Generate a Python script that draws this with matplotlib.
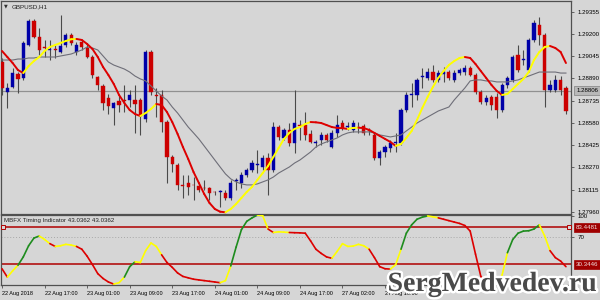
import matplotlib
matplotlib.use('Agg')
import matplotlib.pyplot as plt
import matplotlib.transforms as mtransforms
import matplotlib.patheffects as pe
from matplotlib.collections import LineCollection
import numpy as np

plt.rcParams['font.family'] = ['Liberation Sans', 'DejaVu Sans']

symbol = "GBPUSD,H1"
indicator_title = "MBFX Timing Indicator 43.0362 43.0362"

opens = [1.29005, 1.28796, 1.28831, 1.28921, 1.28894, 1.29124, 1.29291, 1.29180, 1.29110, 1.29089,
         1.29096, 1.29075, 1.29124, 1.29194, 1.29075, 1.29145, 1.29103, 1.29040, 1.28900, 1.28838,
         1.28754, 1.28684, 1.28733, 1.28740, 1.28740, 1.28740, 1.28740, 1.28607, 1.29075, 1.28775,
         1.28775, 1.28586, 1.28342, 1.28286, 1.28147, 1.28161, 1.28147, 1.28140, 1.28126, 1.28126,
         1.28098, 1.28098, 1.28091, 1.28056, 1.28175, 1.28161, 1.28216, 1.28251, 1.28286, 1.28272,
         1.28335, 1.28251, 1.28551, 1.28475, 1.28531, 1.28440, 1.28565, 1.28565, 1.28503, 1.28440,
         1.28461, 1.28496, 1.28412, 1.28510, 1.28579, 1.28551, 1.28531, 1.28551, 1.28558, 1.28531,
         1.28496, 1.28335, 1.28377, 1.28405, 1.28440, 1.28440, 1.28670, 1.28775, 1.28775, 1.28900,
         1.28894, 1.28935, 1.28880, 1.28921, 1.28935, 1.28880, 1.28928, 1.28935, 1.28963, 1.28914,
         1.28796, 1.28726, 1.28761, 1.28761, 1.28670, 1.28845, 1.28880, 1.29054, 1.29019, 1.28949,
         1.29159, 1.29263, 1.29194, 1.28810, 1.28810, 1.28880, 1.28824]
highs = [1.29033, 1.28859, 1.28963, 1.28935, 1.29152, 1.29305, 1.29305, 1.29243, 1.29159, 1.29159,
         1.29131, 1.29333, 1.29208, 1.29208, 1.29145, 1.29159, 1.29138, 1.29054, 1.28907, 1.28852,
         1.28782, 1.28726, 1.28775, 1.28845, 1.28810, 1.28845, 1.28754, 1.29089, 1.29089, 1.28824,
         1.28810, 1.28600, 1.28356, 1.28300, 1.28216, 1.28216, 1.28202, 1.28154, 1.28182, 1.28133,
         1.28105, 1.28112, 1.28112, 1.28182, 1.28196, 1.28237, 1.28265, 1.28321, 1.28391, 1.28356,
         1.28370, 1.28586, 1.28565, 1.28545, 1.28579, 1.28810, 1.28600, 1.28656, 1.28531, 1.28461,
         1.28517, 1.28510, 1.28531, 1.28635, 1.28600, 1.28586, 1.28600, 1.28586, 1.28572, 1.28545,
         1.28510, 1.28391, 1.28426, 1.28461, 1.28510, 1.28684, 1.28796, 1.28859, 1.28894, 1.28963,
         1.28963, 1.28984, 1.28949, 1.28970, 1.28949, 1.28949, 1.28963, 1.28984, 1.28977, 1.28928,
         1.28810, 1.28775, 1.28775, 1.28789, 1.28859, 1.28907, 1.29054, 1.29124, 1.29089, 1.29173,
         1.29298, 1.29319, 1.29208, 1.28880, 1.28914, 1.28907, 1.28838]
lows = [1.28775, 1.28684, 1.28824, 1.28789, 1.28880, 1.29117, 1.29173, 1.29054, 1.29040, 1.29019,
        1.29033, 1.29068, 1.29110, 1.29124, 1.29054, 1.29089, 1.29033, 1.28894, 1.28810, 1.28670,
        1.28642, 1.28565, 1.28656, 1.28656, 1.28691, 1.28510, 1.28496, 1.28586, 1.28775, 1.28621,
        1.28517, 1.28161, 1.28237, 1.28112, 1.28056, 1.28077, 1.28042, 1.28098, 1.28112, 1.28042,
        1.28077, 1.27993, 1.28042, 1.28042, 1.28112, 1.28126, 1.28202, 1.28237, 1.28230, 1.28251,
        1.28077, 1.28237, 1.28461, 1.28461, 1.28419, 1.28370, 1.28461, 1.28461, 1.28440, 1.28412,
        1.28426, 1.28447, 1.28405, 1.28482, 1.28531, 1.28531, 1.28517, 1.28510, 1.28496, 1.28496,
        1.28321, 1.28286, 1.28342, 1.28377, 1.28377, 1.28426, 1.28656, 1.28691, 1.28740, 1.28824,
        1.28880, 1.28866, 1.28866, 1.28866, 1.28880, 1.28866, 1.28914, 1.28914, 1.28907, 1.28782,
        1.28712, 1.28705, 1.28670, 1.28614, 1.28656, 1.28824, 1.28866, 1.28935, 1.28984, 1.28935,
        1.29145, 1.29124, 1.28691, 1.28796, 1.28796, 1.28775, 1.28642]
closes = [1.28824, 1.28824, 1.28928, 1.28887, 1.29138, 1.29291, 1.29180, 1.29089, 1.29103, 1.29096,
          1.29089, 1.29117, 1.29194, 1.29138, 1.29124, 1.29110, 1.29040, 1.28914, 1.28845, 1.28719,
          1.28698, 1.28719, 1.28705, 1.28733, 1.28775, 1.28712, 1.28628, 1.29075, 1.28796, 1.28768,
          1.28586, 1.28342, 1.28293, 1.28147, 1.28140, 1.28133, 1.28143, 1.28112, 1.28124, 1.28091,
          1.28096, 1.28105, 1.28056, 1.28161, 1.28182, 1.28216, 1.28251, 1.28300, 1.28293, 1.28335,
          1.28251, 1.28551, 1.28482, 1.28531, 1.28440, 1.28579, 1.28558, 1.28496, 1.28447, 1.28447,
          1.28496, 1.28461, 1.28510, 1.28565, 1.28545, 1.28558, 1.28579, 1.28549, 1.28510, 1.28524,
          1.28335, 1.28377, 1.28412, 1.28440, 1.28447, 1.28670, 1.28775, 1.28782, 1.28880, 1.28907,
          1.28935, 1.28880, 1.28928, 1.28935, 1.28894, 1.28928, 1.28949, 1.28963, 1.28914, 1.28796,
          1.28726, 1.28754, 1.28705, 1.28670, 1.28845, 1.28894, 1.29040, 1.28949, 1.29026, 1.29159,
          1.29277, 1.29194, 1.28810, 1.28845, 1.28880, 1.28810, 1.28663]

# thin grey moving average
ma_slow = [1.29019, 1.29019, 1.29019, 1.29026, 1.29026, 1.29033, 1.29033, 1.29040, 1.29040, 1.29040,
           1.29040, 1.29047, 1.29054, 1.29061, 1.29075, 1.29089, 1.29110, 1.29103, 1.29089, 1.29047,
           1.29005, 1.28984, 1.28970, 1.28956, 1.28935, 1.28907, 1.28887, 1.28873, 1.28838, 1.28803,
           1.28768, 1.28740, 1.28691, 1.28649, 1.28600, 1.28551, 1.28510, 1.28468, 1.28419, 1.28370,
           1.28321, 1.28272, 1.28224, 1.28189, 1.28168, 1.28154, 1.28147, 1.28147, 1.28154, 1.28168,
           1.28182, 1.28202, 1.28230, 1.28251, 1.28272, 1.28300, 1.28321, 1.28349, 1.28377, 1.28412,
           1.28433, 1.28447, 1.28461, 1.28475, 1.28496, 1.28510, 1.28517, 1.28517, 1.28517, 1.28517,
           1.28510, 1.28496, 1.28489, 1.28482, 1.28489, 1.28496, 1.28524, 1.28551, 1.28579, 1.28600,
           1.28621, 1.28642, 1.28663, 1.28677, 1.28691, 1.28740, 1.28782, 1.28824, 1.28873, 1.28880,
           1.28880, 1.28873, 1.28873, 1.28866, 1.28866, 1.28866, 1.28873, 1.28880, 1.28894, 1.28907,
           1.28921, 1.28935, 1.28935, 1.28935, 1.28935, 1.28928, 1.28928]

# red / yellow smoothed average
ma_fast = [1.29082, 1.29040, 1.28998, 1.28949, 1.28928, 1.28977, 1.29012, 1.29040, 1.29082, 1.29110,
           1.29124, 1.29138, 1.29152, 1.29164, 1.29166, 1.29159, 1.29131, 1.29096, 1.29040, 1.28970,
           1.28914, 1.28852, 1.28775, 1.28719, 1.28670, 1.28642, 1.28628, 1.28649, 1.28677, 1.28712,
           1.28705, 1.28656, 1.28586, 1.28503, 1.28412, 1.28328, 1.28237, 1.28161, 1.28084, 1.28021,
           1.27979, 1.27960, 1.27956, 1.27979, 1.28014, 1.28056, 1.28098, 1.28133, 1.28182, 1.28230,
           1.28279, 1.28342, 1.28405, 1.28468, 1.28510, 1.28538, 1.28551, 1.28572, 1.28586, 1.28584,
           1.28579, 1.28565, 1.28551, 1.28545, 1.28543, 1.28538, 1.28545, 1.28546, 1.28544, 1.28531,
           1.28510, 1.28489, 1.28468, 1.28447, 1.28419, 1.28433, 1.28475, 1.28524, 1.28600, 1.28684,
           1.28761, 1.28831, 1.28894, 1.28942, 1.28984, 1.29012, 1.29033, 1.29040, 1.29033, 1.28991,
           1.28942, 1.28894, 1.28845, 1.28803, 1.28775, 1.28782, 1.28817, 1.28852, 1.28887, 1.28935,
           1.29019, 1.29075, 1.29110, 1.29117, 1.29103, 1.29075, 1.28998]

timing = [24, 12, 21, 29, 41, 57, 68, 71, 66, 60,
          56, 57, 59, 58, 56, 52, 42, 30, 17, 10,
          5, 2, 4, 12, 27, 34, 33, 50, 61, 56,
          44, 33, 26, 18, 13, 11, 9, 8, 7, 6,
          5, 4, 7, 28, 55, 80, 92, 97, 101, 100,
          81, 76, 77, 76.5, 76, 75.7, 75.5, 75, 64, 52,
          46, 41, 39, 49, 60, 56, 56.5, 59, 57, 52,
          40, 27, 24, 23.5, 30, 52, 75, 87, 95, 98,
          99.7, 98.5, 97, 95, 93, 91, 89, 86, 78, 45,
          13, 5, 4, 3, 15, 47, 66, 75, 78, 78.5,
          81, 87, 71, 50, 40, 35, 27]

# labels the watermark does not hide
time_labels = ["22 Aug 2018", "22 Aug 17:00", "23 Aug 01:00", "23 Aug 09:00", "23 Aug 17:00",
               "24 Aug 01:00", "24 Aug 09:00", "24 Aug 17:00", "27 Aug 02:00", "27 Aug 10:00"]
price_ticks = [1.29355, 1.29200, 1.29045, 1.28890, 1.28735, 1.28580, 1.28425, 1.28270, 1.28115, 1.27960]
bid = 1.28806
level_hi = 83.4481
level_lo = 30.3446

bg = '#d6d6d6'
frame = '#505050'
bull = '#0000a8'
bear = '#cc0000'
wick = '#4a4a4a'

opens = np.array(opens); closes = np.array(closes)
highs = np.array(highs); lows = np.array(lows)
n = len(closes)
x = np.arange(n)

fig = plt.figure(figsize=(6, 3), dpi=100, facecolor=bg)
ax = fig.add_axes([1/600, 86/300, 570/600, 213/300], facecolor=bg)
ax2 = fig.add_axes([1/600, 15/300, 570/600, 70/300], facecolor=bg)

# candles
ax.axhline(bid, color='#909090', lw=0.9, zorder=1)
ax.vlines(x, lows, highs, color=wick, lw=0.8, zorder=2)
up = closes >= opens
cols = np.where(up, bull, bear)
bottom = np.minimum(opens, closes)
height = np.maximum(np.abs(closes - opens), 0.00003)
ax.bar(x, height, bottom=bottom, width=0.6, color=cols, edgecolor=cols, lw=0.3, zorder=3)

# moving averages
ax.plot(x, ma_slow, color='#6e6e78', lw=0.8, zorder=4)
mf = np.array(ma_fast)
segs = [[(i, mf[i]), (i + 1, mf[i + 1])] for i in range(n - 1)]
seg_cols = ['#ffff00' if mf[i + 1] > mf[i] else '#dd0000' for i in range(n - 1)]
ax.add_collection(LineCollection(segs, colors=seg_cols, lw=1.4, zorder=5, capstyle='round'))

ax.set_xlim(-0.19, 106.95)
ax.set_ylim(1.27944, 1.29431)
ax.yaxis.tick_right()
ax.set_yticks(price_ticks)
ax.set_yticklabels(['%.5f' % p for p in price_ticks])
ax.set_xticks([])
ax.tick_params(axis='y', direction='out', length=2.5, width=0.6, color=frame, labelsize=4.4, pad=2)

trans = mtransforms.blended_transform_factory(ax.transAxes, ax.transData)
ax.text(1.009, bid, '%.5f' % bid, transform=trans, fontsize=4.4, va='center', ha='left', color='black',
        bbox=dict(boxstyle='square,pad=0.3', fc='#b8b8b8', ec='#808080', lw=0.5))
ax.text(0.005, 0.975, u'\u25bc', transform=ax.transAxes, fontsize=3.5, va='center', ha='left',
        color='#303030', family='DejaVu Sans')
ax.text(0.019, 0.975, symbol, transform=ax.transAxes, fontsize=4.5, va='center', ha='left', color='#202020')

# indicator
tv = np.array(timing, dtype=float)
d = np.sign(np.diff(tv))
for k in range(1, len(d)):
    if d[k] == 0:
        d[k] = d[k - 1]
t_segs = []
t_cols = []
for k in range(len(d)):
    turn = (k >= 1 and d[k] != d[k - 1]) or (k >= 2 and d[k] != d[k - 2])
    t_segs.append([(k, tv[k]), (k + 1, tv[k + 1])])
    if turn:
        t_cols.append('#ffff00')
    elif d[k] > 0:
        t_cols.append('#1e8c1e')
    else:
        t_cols.append('#dd0000')
ax2.axhline(70, color='#a8a8a8', lw=0.7, ls=(0, (1, 2)), zorder=1)
ax2.axhline(level_hi, color='#b00000', lw=1.1, zorder=2)
ax2.axhline(level_lo, color='#b00000', lw=1.1, zorder=2)
ax2.add_collection(LineCollection(t_segs, colors=t_cols, lw=1.2, zorder=3, capstyle='round'))

trans2 = mtransforms.blended_transform_factory(ax2.transAxes, ax2.transData)
ax2.plot([0.004, 0.996], [level_hi, level_hi], transform=trans2, ls='none', marker='s', ms=2.2,
         mfc=bg, mec='#b00000', mew=0.7, zorder=4, clip_on=False)
for lv in (level_hi, level_lo):
    ax2.text(1.009, lv, '%.4f' % lv, transform=trans2, fontsize=4.4, va='center', ha='left', color='#f0e0e0',
             bbox=dict(boxstyle='square,pad=0.3', fc='#a00000', ec='#a00000', lw=0.5))
ax2.text(0.005, 0.92, indicator_title, transform=ax2.transAxes, fontsize=4.4, va='center', ha='left',
         color='#202020')

ax2.set_xlim(-0.19, 106.95)
ax2.set_ylim(0.7, 101.1)
ax2.yaxis.tick_right()
ax2.set_yticks([100, 70])
ax2.set_yticklabels(['100', '70'])
ax2.tick_params(axis='y', direction='out', length=2.5, width=0.6, color=frame, labelsize=4.4, pad=2)
ax2.set_xticks(np.arange(0, 8 * len(time_labels), 8))
ax2.set_xticklabels(time_labels)
ax2.tick_params(axis='x', direction='out', length=2.5, width=0.6, color=frame, labelsize=4.0, pad=1.5)
for lab in ax2.get_xticklabels():
    lab.set_horizontalalignment('left')

for a in (ax, ax2):
    for s in a.spines.values():
        s.set_color(frame)
        s.set_linewidth(0.9)

# site watermark over the lower right corner
fig.text(597/600, 3/300, 'SergMedvedev.ru', fontsize=20, fontweight='bold', family='Liberation Serif',
         color='#4a4a4a', ha='right', va='bottom', zorder=10,
         path_effects=[pe.withStroke(linewidth=3.5, foreground='white')])

fig.savefig('out.png', dpi=100, facecolor=bg)
